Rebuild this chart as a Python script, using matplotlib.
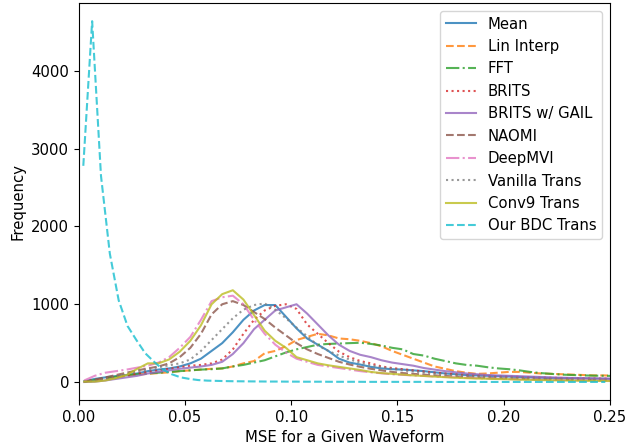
import numpy as np
import matplotlib
matplotlib.use("Agg")
import matplotlib.pyplot as plt

plt.rcParams["font.size"] = 10.7

# shared grid for the baseline methods (bin centres, width 0.005)
mse_grid = [0.0025 + 0.005 * k for k in range(51)]
# finer bins for our model
bdc_grid = [(k + 0.5) * 0.25 / 60 for k in range(60)]

mean_freq = [10, 40, 60, 75, 90, 110, 140, 160, 175, 200, 240, 300, 400, 500, 640, 800, 920, 990, 990, 840,
             690, 560, 480, 400, 300, 250, 225, 195, 175, 165, 160, 150, 140, 125, 110, 100, 90, 85, 80, 75,
             70, 65, 60, 55, 52, 50, 47, 45, 42, 40, 38]
lin_interp_freq = [5, 20, 40, 60, 80, 95, 105, 115, 125, 140, 150, 160, 170, 175, 200, 240, 270, 370, 400, 460,
                   540, 580, 620, 600, 560, 550, 530, 500, 460, 400, 350, 300, 250, 200, 170, 140, 120, 105, 110, 120,
                   130, 130, 120, 110, 105, 100, 95, 90, 85, 85, 80]
fft_freq = [5, 25, 50, 70, 90, 100, 110, 120, 130, 140, 150, 160, 165, 175, 200, 220, 250, 280, 330, 380,
            420, 450, 480, 490, 495, 500, 505, 490, 470, 440, 420, 360, 340, 300, 270, 240, 220, 210, 190, 175,
            165, 150, 130, 115, 105, 95, 90, 85, 82, 80, 78]
brits_freq = [5, 25, 50, 70, 90, 110, 130, 150, 170, 190, 210, 220, 240, 290, 420, 620, 800, 920, 980, 1000,
              940, 740, 620, 500, 390, 320, 270, 240, 200, 180, 165, 150, 135, 120, 110, 100, 90, 85, 80, 75,
              70, 66, 62, 58, 55, 52, 50, 48, 46, 44, 42]
brits_gail_freq = [0, 5, 20, 40, 60, 80, 110, 130, 150, 170, 185, 200, 220, 260, 360, 500, 680, 800, 920, 960,
                   1000, 880, 740, 600, 480, 400, 350, 320, 280, 250, 230, 210, 180, 160, 140, 125, 110, 100, 90, 85,
                   80, 75, 70, 65, 60, 56, 52, 50, 48, 46, 44]
naomi_freq = [5, 30, 60, 90, 120, 150, 175, 200, 240, 320, 440, 620, 870, 1000, 1040, 990, 900, 810, 700, 600,
              500, 420, 360, 310, 260, 225, 195, 170, 150, 130, 115, 105, 95, 85, 78, 70, 64, 58, 52, 48,
              44, 40, 37, 34, 31, 29, 27, 25, 23, 21, 20]
deepmvi_freq = [20, 80, 120, 140, 160, 185, 210, 250, 320, 440, 580, 800, 1040, 1090, 1110, 1000, 800, 620, 480, 380,
                300, 260, 220, 200, 180, 160, 140, 125, 112, 100, 92, 85, 78, 72, 66, 60, 55, 50, 46, 42,
                38, 35, 32, 30, 28, 26, 24, 22, 20, 19, 18]
vanilla_freq = [5, 15, 40, 70, 100, 130, 160, 190, 215, 240, 290, 400, 540, 680, 820, 930, 990, 1010, 930, 820,
                700, 590, 470, 400, 340, 290, 250, 215, 190, 170, 150, 135, 120, 108, 98, 88, 80, 72, 66, 60,
                55, 50, 46, 42, 38, 35, 32, 30, 28, 26, 25]
conv9_freq = [5, 5, 20, 50, 90, 170, 240, 240, 290, 390, 530, 730, 1000, 1130, 1180, 1060, 860, 660, 530, 440,
              320, 280, 240, 215, 195, 175, 155, 130, 115, 105, 95, 85, 78, 70, 62, 55, 50, 45, 42, 38,
              35, 30, 28, 25, 22, 20, 18, 16, 15, 14, 12]
bdc_freq = [2780, 4640, 2650, 1650, 1050, 720, 540, 370, 260, 160, 100, 60, 40, 25, 18, 15, 12, 10, 9, 8,
            7, 6, 6, 5, 5, 4, 4, 4, 3, 3, 3, 3, 2, 2, 2, 2, 2, 2, 2, 2,
            1, 1, 1, 1, 1, 1, 1, 1, 1, 1, 1, 1, 1, 1, 1, 1, 1, 1, 1, 1]

series = [
    ("Mean", mse_grid, mean_freq),
    ("Lin Interp", mse_grid, lin_interp_freq),
    ("FFT", mse_grid, fft_freq),
    ("BRITS", mse_grid, brits_freq),
    ("BRITS w/ GAIL", mse_grid, brits_gail_freq),
    ("NAOMI", mse_grid, naomi_freq),
    ("DeepMVI", mse_grid, deepmvi_freq),
    ("Vanilla Trans", mse_grid, vanilla_freq),
    ("Conv9 Trans", mse_grid, conv9_freq),
    ("Our BDC Trans", bdc_grid, bdc_freq),
]
line_styles = ["-", "--", "-.", ":"]

fig, ax = plt.subplots(figsize=(6.26, 4.48), dpi=100)
fig.subplots_adjust(left=0.126, right=0.974, top=0.993, bottom=0.107)

for i, (name, xs, ys) in enumerate(series):
    ax.plot(xs, ys, label=name, linestyle=line_styles[i % 4], color=f"C{i}", alpha=0.8)

ax.set_xlim(0, 0.25)
ax.set_xlabel("MSE for a Given Waveform")
ax.set_ylabel("Frequency")
ax.legend(loc="upper right")

fig.savefig("out.png", dpi=100)
